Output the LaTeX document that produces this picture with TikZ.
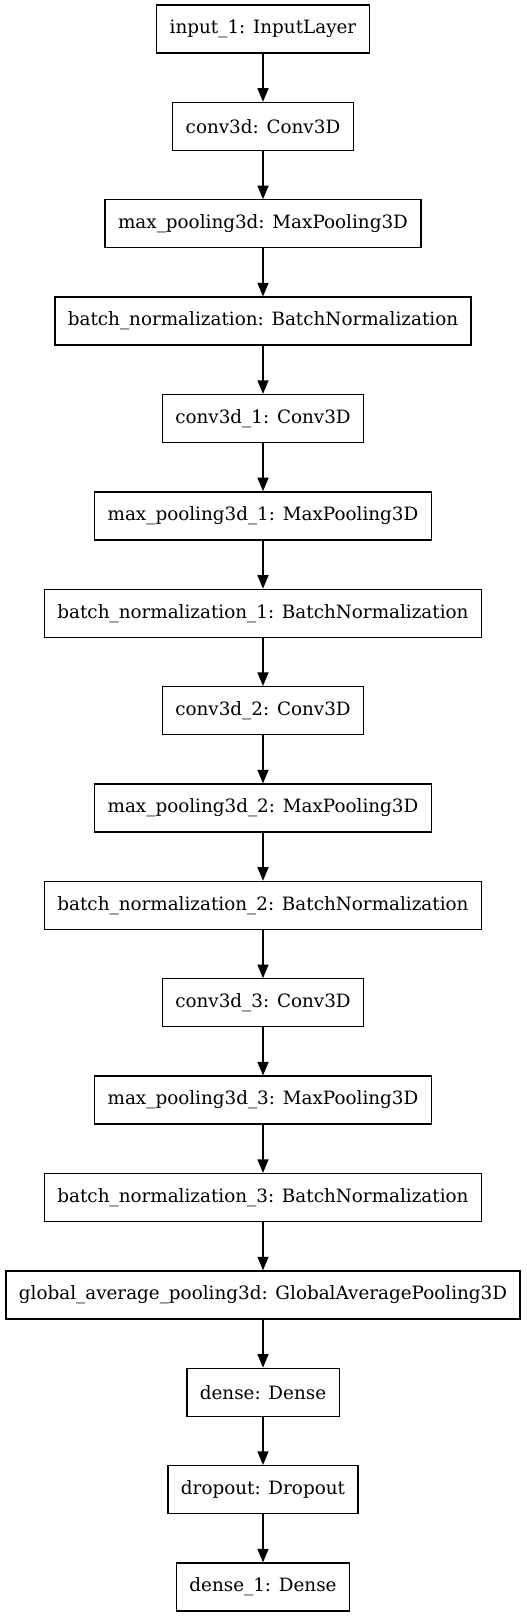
\documentclass[tikz,border=0pt]{standalone}
\usepackage{fontspec}
\setmainfont{DejaVu Serif}
\usetikzlibrary{arrows.meta}
\begin{document}
\begin{tikzpicture}[x=1pt,y=-1pt,
  layer/.style={draw=black, line width=1.33pt, fill=white, minimum height=48pt,
    inner xsep=13pt, inner ysep=0pt, font=\fontsize{18.35pt}{22pt}\selectfont, anchor=center},
  conn/.style={draw=black, line width=1.33pt, -{Triangle[length=13.5pt,width=11pt]}}]
\useasboundingbox (0,0) rectangle (527,1617);
\def\cx{263}
\node[layer] (n0)  at (\cx, 29.0)   {input\_1: InputLayer};
\node[layer] (n1)  at (\cx, 126.4)  {conv3d: Conv3D};
\node[layer] (n2)  at (\cx, 223.8)  {max\_pooling3d: MaxPooling3D};
\node[layer] (n3)  at (\cx, 321.1)  {batch\_normalization: BatchNormalization};
\node[layer] (n4)  at (\cx, 418.5)  {conv3d\_1: Conv3D};
\node[layer] (n5)  at (\cx, 515.9)  {max\_pooling3d\_1: MaxPooling3D};
\node[layer] (n6)  at (\cx, 613.3)  {batch\_normalization\_1: BatchNormalization};
\node[layer] (n7)  at (\cx, 710.6)  {conv3d\_2: Conv3D};
\node[layer] (n8)  at (\cx, 808.0)  {max\_pooling3d\_2: MaxPooling3D};
\node[layer] (n9)  at (\cx, 905.4)  {batch\_normalization\_2: BatchNormalization};
\node[layer] (n10) at (\cx, 1002.8) {conv3d\_3: Conv3D};
\node[layer] (n11) at (\cx, 1100.1) {max\_pooling3d\_3: MaxPooling3D};
\node[layer] (n12) at (\cx, 1197.5) {batch\_normalization\_3: BatchNormalization};
\node[layer] (n13) at (\cx, 1294.9) {global\_average\_pooling3d: GlobalAveragePooling3D};
\node[layer] (n14) at (\cx, 1392.3) {dense: Dense};
\node[layer] (n15) at (\cx, 1489.6) {dropout: Dropout};
\node[layer] (n16) at (\cx, 1587.0) {dense\_1: Dense};
\foreach \a/\b in {n0/n1,n1/n2,n2/n3,n3/n4,n4/n5,n5/n6,n6/n7,n7/n8,n8/n9,n9/n10,n10/n11,n11/n12,n12/n13,n13/n14,n14/n15,n15/n16}
  \draw[conn] (\a.south) -- (\b.north);
\end{tikzpicture}
\end{document}
